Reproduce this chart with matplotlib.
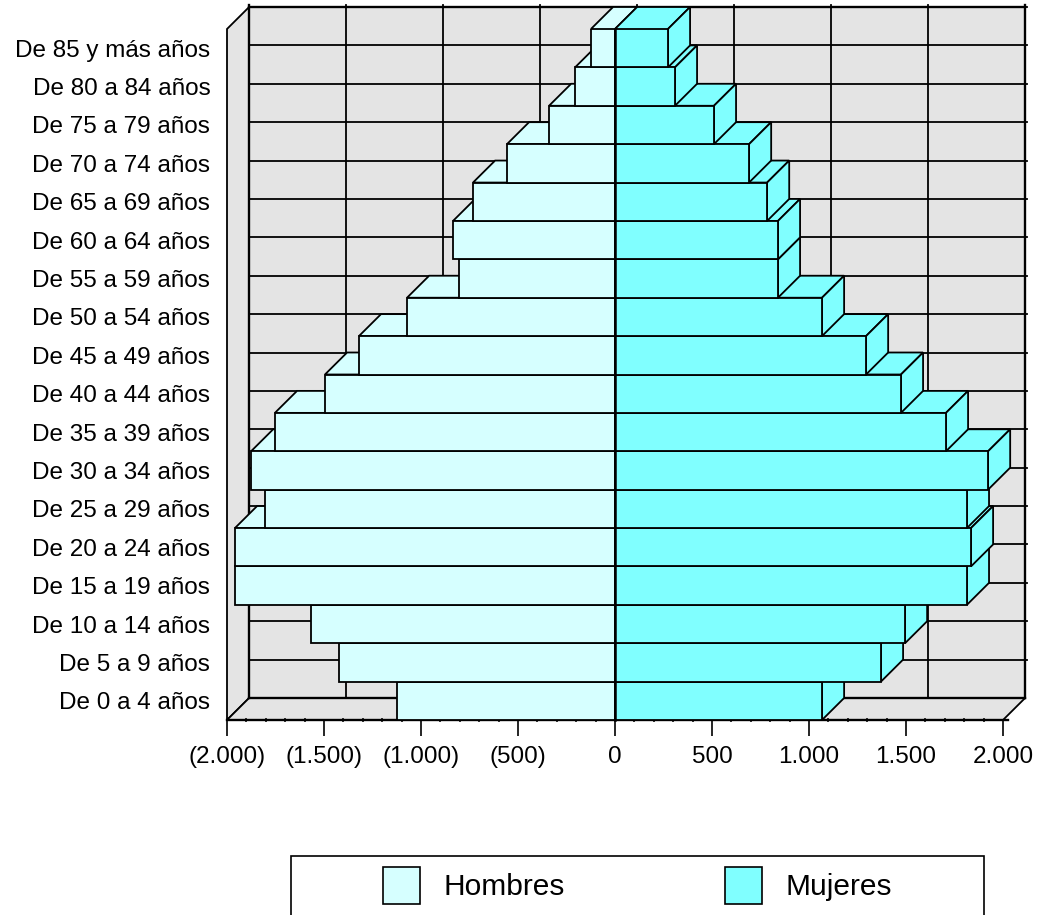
import matplotlib
matplotlib.use("Agg")
import matplotlib.pyplot as plt
from matplotlib.patches import Polygon, Rectangle, Patch
from matplotlib.ticker import MultipleLocator

plt.rcParams['font.family'] = ['Liberation Sans', 'DejaVu Sans']

categories = ["De 0 a 4 años", "De 5 a 9 años", "De 10 a 14 años", "De 15 a 19 años",
              "De 20 a 24 años", "De 25 a 29 años", "De 30 a 34 años", "De 35 a 39 años",
              "De 40 a 44 años", "De 45 a 49 años", "De 50 a 54 años", "De 55 a 59 años",
              "De 60 a 64 años", "De 65 a 69 años", "De 70 a 74 años", "De 75 a 79 años",
              "De 80 a 84 años", "De 85 y más años"]
hombres = [1124, 1423, 1567, 1959, 1959, 1804, 1876, 1753, 1495,
           1320, 1072, 804, 835, 732, 557, 340, 206, 124]
mujeres = [1067, 1371, 1495, 1814, 1835, 1814, 1923, 1706, 1474,
           1294, 1067, 840, 840, 784, 691, 510, 309, 273]
x_ticks = [-2000, -1500, -1000, -500, 0, 500, 1000, 1500, 2000]
x_labels = ["(2.000)", "(1.500)", "(1.000)", "(500)", "0", "500", "1.000", "1.500", "2.000"]

W, H = 1042, 915
C_H, C_M, C_WALL = "#D6FFFF", "#80FFFF", "#E4E4E4"
LW = 1.3
DX, DY = 114, 0.573  # oblique depth of the fake-3D box, in data units

fig = plt.figure(figsize=(W / 100, H / 100), dpi=100, facecolor="white")
ax = fig.add_axes([227 / W, 1 - 720 / H, (1003 - 227) / W, (720 - 29) / H])
ax.set_xlim(-2000, 2000)
ax.set_ylim(0, len(categories))
ax.patch.set_visible(False)
for s in ax.spines.values():
    s.set_visible(False)


def poly(pts, fc, z, lw=LW):
    ax.add_patch(Polygon(pts, closed=True, facecolor=fc, edgecolor="black",
                         linewidth=lw, zorder=z, clip_on=False, joinstyle="miter"))


n = len(categories)
# walls and floor
poly([(-2000, 0), (-2000 + DX, DY), (-2000 + DX, n + DY), (-2000, n)], C_WALL, 1)
poly([(-2000, 0), (-2000 + DX, DY), (2000 + DX, DY), (2000, 0)], C_WALL, 1)
ax.add_patch(Rectangle((-2000 + DX, DY), 4000, n, facecolor=C_WALL, edgecolor="none",
                       zorder=1, clip_on=False))
for v in x_ticks:
    ax.plot([v + DX, v + DX], [DY, n + DY + 0.05], color="black", lw=LW, zorder=2, clip_on=False)
for j in range(1, n + 1):
    ax.plot([-2000 + DX, 2000 + DX + 12], [j + DY, j + DY], color="black", lw=LW, zorder=2, clip_on=False)
ax.plot([-2000 + DX, 2000 + DX], [DY, DY], color="black", lw=LW * 1.3, zorder=2, clip_on=False)
ax.plot([-2000 + DX, 2000 + DX], [n + DY, n + DY], color="black", lw=LW * 1.3, zorder=2, clip_on=False)
ax.plot([2000 + DX] * 2, [DY, n + DY + 0.05], color="black", lw=LW * 1.3, zorder=2, clip_on=False)
ax.plot([-2000 + DX] * 2, [DY, n + DY + 0.05], color="black", lw=LW * 1.3, zorder=2, clip_on=False)

# bars, lowest first so each upper bar's front covers the top of the one below
for i in range(n):
    z = 10 + 2 * i
    h, m = hombres[i], mujeres[i]
    poly([(-h, i + 1), (-h + DX, i + 1 + DY), (DX, i + 1 + DY), (0, i + 1)], C_H, z)
    ax.barh(i + 0.5, -h, height=1, color=C_H, edgecolor="black", linewidth=LW, zorder=z)
    poly([(0, i + 1), (DX, i + 1 + DY), (m + DX, i + 1 + DY), (m, i + 1)], C_M, z)
    poly([(m, i), (m + DX, i + DY), (m + DX, i + 1 + DY), (m, i + 1)], C_M, z)
    ax.barh(i + 0.5, m, height=1, color=C_M, edgecolor="black", linewidth=LW, zorder=z)

ax.plot([0, 0], [0, n], color="black", lw=1.8, zorder=100, clip_on=False)
ax.plot([-2000, 2025], [0, 0], color="black", lw=1.7, zorder=5, clip_on=False)

ax.set_xticks(x_ticks)
ax.set_xticklabels(x_labels, fontsize=17.5)
ax.set_yticks([i + 0.5 for i in range(n)])
ax.set_yticklabels(categories, fontsize=17.5)
ax.xaxis.set_minor_locator(MultipleLocator(100))
ax.tick_params(axis="x", which="major", length=11.5, width=1.2, pad=7, color="black")
ax.tick_params(axis="x", which="minor", length=3, width=1.1, direction="inout", color="black")
ax.tick_params(axis="y", which="both", length=0, pad=12)
ax.set_axisbelow(False)

# legend (its frame runs off the bottom of the image)
fig.add_artist(Rectangle((291 / W, 1 - 930 / H), (984 - 291) / W, (930 - 856) / H,
                         transform=fig.transFigure, facecolor="white",
                         edgecolor="black", linewidth=1.2))
handles = [Patch(facecolor=C_H, edgecolor="black", linewidth=1.2, label="Hombres"),
           Patch(facecolor=C_M, edgecolor="black", linewidth=1.2, label="Mujeres")]
fig.legend(handles=handles, ncol=2, frameon=False, loc="upper left",
           bbox_to_anchor=(383 / W, 1 - 867 / H), fontsize=21.5, borderpad=0, borderaxespad=0,
           handlelength=1.24, handleheight=1.53, handletextpad=0.77, columnspacing=5.38)

fig.savefig("out.png", dpi=100, facecolor="white")
